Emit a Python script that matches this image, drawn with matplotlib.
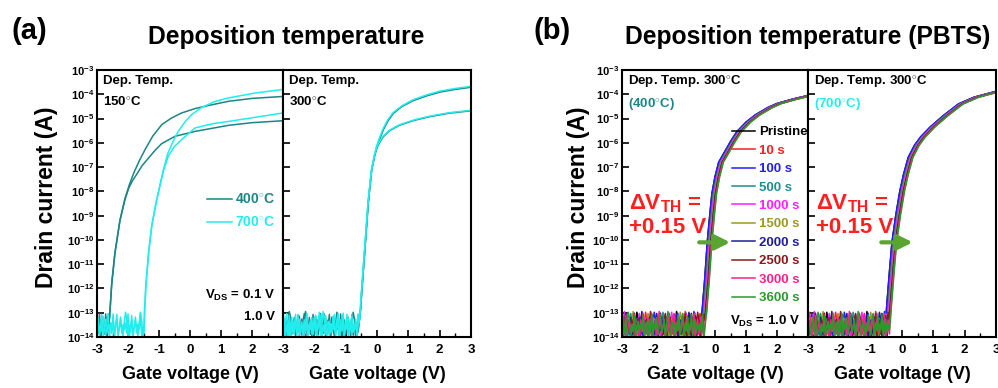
import numpy as np
import matplotlib.pyplot as plt
from matplotlib.ticker import MultipleLocator

plt.rcParams['font.family'] = ['Liberation Sans', 'DejaVu Sans']
plt.rcParams['font.weight'] = 'bold'
plt.rcParams['mathtext.fontset'] = 'custom'
plt.rcParams['mathtext.rm'] = 'Liberation Sans:bold'
plt.rcParams['mathtext.bf'] = 'Liberation Sans:bold'
plt.rcParams['mathtext.it'] = 'Liberation Sans:bold'

# gate sweep step in the off-state (noise floor) region
VG_STEP = 0.04

# off-state noise floor, log10(I)
NOISE = [-13.42, -13.85, -13.05, -14.10, -13.55, -13.30, -13.88, -13.62, -13.18, -13.74,
         -13.95, -13.40, -12.98, -13.27, -14.05, -13.50, -13.79, -13.12, -13.99, -13.58,
         -13.35, -13.82, -13.47, -13.70, -13.08, -13.93, -13.60, -13.38, -14.15, -13.29,
         -13.76, -13.02, -13.98, -13.44, -13.68, -13.20, -13.90, -13.57, -13.10, -13.81,
         -13.63, -13.26, -14.08, -13.49, -12.95, -13.17, -13.87, -13.54, -13.36, -13.96,
         -13.45, -13.78, -13.14, -13.65, -13.92, -13.31, -13.03, -14.12, -13.41, -13.73,
         -13.19, -13.89, -13.53, -13.07, -13.97, -13.61, -13.28, -13.83, -13.48, -13.71]

# (a) left: deposition 150 C, log10(I) vs Vg
a150_400_hi_v = [-2.62, -2.58, -2.53, -2.42, -2.26, -2.1, -1.95, -1.8, -1.62, -1.45, -1.2, -0.91,
                 -0.6, -0.27, 0.16, 0.6, 1.24, 2.0, 3.0]
a150_400_hi_i = [-13.7, -12.9, -11.9, -10.55, -9.2, -8.3, -7.7, -7.2, -6.7, -6.28, -5.72, -5.25,
                 -4.98, -4.77, -4.59, -4.46, -4.29, -4.17, -4.09]
a150_400_lo_v = [-2.62, -2.57, -2.52, -2.42, -2.26, -2.1, -1.97, -1.85, -1.72, -1.55, -1.34, -1.1,
                 -0.91, -0.48, 0.16, 1.24, 2.0, 3.0]
a150_400_lo_i = [-13.6, -12.7, -11.7, -10.5, -9.2, -8.35, -7.85, -7.55, -7.3, -6.95, -6.63, -6.27,
                 -6.03, -5.73, -5.53, -5.28, -5.17, -5.09]
a150_700_hi_v = [-1.49, -1.47, -1.43, -1.34, -1.24, -1.1, -0.97, -0.86, -0.72, -0.55, -0.38, -0.15,
                 0.05, 0.38, 0.8, 1.24, 2.1, 3.0]
a150_700_hi_i = [-13.8, -13.0, -11.93, -10.55, -9.45, -8.5, -7.75, -7.12, -6.45, -5.95, -5.53, -5.12,
                 -4.84, -4.54, -4.3, -4.15, -3.95, -3.80]
a150_700_lo_v = [-1.49, -1.46, -1.42, -1.33, -1.23, -1.09, -0.96, -0.85, -0.7, -0.5, -0.27, 0.16,
                 0.7, 1.24, 2.1, 3.0]
a150_700_lo_i = [-13.8, -12.9, -11.9, -10.5, -9.4, -8.45, -7.7, -7.12, -6.55, -6.15, -5.87, -5.39,
                 -5.22, -5.12, -4.95, -4.77]

# (a) right: deposition 300 C
a300_400_hi_v = [-0.56, -0.52, -0.49, -0.38, -0.28, -0.17, -0.08, 0.0, 0.1, 0.2, 0.35, 0.52, 0.8,
                 1.16, 1.6, 2.01, 2.5, 3.0]
a300_400_hi_i = [-13.3, -12.8, -12.2, -10.28, -8.49, -7.12, -6.55, -6.15, -5.8, -5.47, -5.1, -4.79,
                 -4.5, -4.26, -4.06, -3.91, -3.8, -3.71]
a300_400_lo_v = [-0.56, -0.52, -0.49, -0.38, -0.28, -0.17, -0.08, 0.0, 0.1, 0.2, 0.4, 0.73, 1.2,
                 1.69, 2.3, 3.0]
a300_400_lo_i = [-13.3, -12.8, -12.2, -10.28, -8.49, -7.12, -6.55, -6.2, -5.95, -5.75, -5.5, -5.27,
                 -5.07, -4.92, -4.78, -4.68]
a300_700_hi_v = [-0.57, -0.53, -0.5, -0.39, -0.29, -0.18, -0.09, -0.01, 0.09, 0.19, 0.34, 0.51, 0.8,
                 1.16, 1.6, 2.01, 2.5, 3.0]
a300_700_hi_i = [-13.4, -12.8, -12.2, -10.3, -8.5, -7.15, -6.55, -6.12, -5.76, -5.43, -5.06, -4.76,
                 -4.47, -4.22, -4.02, -3.87, -3.76, -3.67]
a300_700_lo_v = [-0.57, -0.53, -0.5, -0.39, -0.29, -0.18, -0.09, -0.01, 0.09, 0.19, 0.4, 0.73, 1.2,
                 1.69, 2.3, 3.0]
a300_700_lo_i = [-13.4, -12.8, -12.2, -10.3, -8.5, -7.15, -6.55, -6.18, -5.93, -5.73, -5.48, -5.25,
                 -5.05, -4.9, -4.76, -4.66]

# (b) PBTS, pristine curves, VDS = 1.0 V
b400_v = [-0.45, -0.42, -0.33, -0.25, -0.17, -0.1, 0.0, 0.12, 0.3, 0.5, 0.7, 1.0, 1.3, 1.7, 2.0,
          2.5, 3.0]
b400_i = [-13.3, -13.0, -11.6, -10.1, -9.0, -8.1, -7.4, -6.8, -6.4, -5.95, -5.55, -5.15, -4.85,
          -4.55, -4.38, -4.2, -4.05]
b700_v = [-0.52, -0.48, -0.40, -0.32, -0.2, -0.07, 0.05, 0.2, 0.4, 0.6, 0.9, 1.3, 1.8, 2.3, 3.0]
b700_i = [-13.3, -12.6, -11.3, -10.1, -9.0, -8.0, -7.3, -6.6, -6.1, -5.75, -5.35, -4.9, -4.4,
          -4.12, -3.88]

# stress times, colours and threshold shift (V) vs pristine
stress_labels = ['Pristine', '10 s', '100 s', '500 s', '1000 s', '1500 s', '2000 s',
                 '2500 s', '3000 s', '3600 s']
stress_colors = ['black', '#ff1f1f', '#1f1fff', '#1a9090', '#ff1fff', '#9a9a20', '#1f1f99',
                 '#8b1a1a', '#ff1f8c', '#2a9a2a']
stress_shift = [0.0, 0.02, 0.0, 0.05, 0.07, 0.09, 0.11, 0.12, 0.14, 0.15]

TEAL = '#1c8585'
CYAN = '#22ecec'
ARROW = '#5aa532'
RED = '#ff1f1f'


def trace(ax, v, logi, color, shift=0.0, roll=0, label=None):
    vn = np.arange(-3.0, v[0] + shift, VG_STEP)
    noise = np.roll(NOISE, roll)[:len(vn)]
    x = np.concatenate([vn, np.array(v) + shift])
    y = 10.0 ** np.concatenate([noise, logi])
    return ax.plot(x, y, color=color, lw=1.1, label=label)[0]


def style(ax, ylabels=True, last_x=False):
    ax.set_yscale('log')
    ax.set_ylim(1e-14, 1e-3)
    ax.set_xlim(-3, 3)
    ax.set_yticks([10.0 ** -k for k in range(3, 15)])
    ax.yaxis.set_minor_locator(plt.NullLocator())
    if ylabels:
        ax.set_yticklabels([r'$\mathbf{10^{-%d}}$' % k for k in range(3, 15)], fontsize=8)
    else:
        ax.set_yticklabels([])
    ax.set_xticks(range(-3, 4))
    xl = [str(k) for k in range(-3, 4)]
    if not last_x:
        xl[-1] = ''
    ax.set_xticklabels(xl, fontsize=9.5, fontweight='bold')
    ax.xaxis.set_minor_locator(MultipleLocator(0.5))
    ax.tick_params(which='both', direction='in', top=False, right=False)
    ax.tick_params(which='major', length=5, width=1.2)
    ax.tick_params(which='minor', length=3, width=1.0)
    ax.tick_params(axis='x', pad=5)
    ax.tick_params(axis='y', pad=2)
    for s in ax.spines.values():
        s.set_linewidth(1.5)
    ax.set_xlabel('Gate voltage (V)', fontsize=13, fontweight='bold', labelpad=7)


fig = plt.figure(figsize=(9.98, 3.88), dpi=100)
W, H = 998.0, 388.0


def axes_px(x0, x1, y0=70, y1=337):
    return fig.add_axes([x0 / W, 1 - y1 / H, (x1 - x0) / W, (y1 - y0) / H])


a1 = axes_px(97, 283)
a2 = axes_px(283, 471)
b1 = axes_px(622, 808)
b2 = axes_px(808, 996)

# (a) left
h400 = trace(a1, a150_400_hi_v, a150_400_hi_i, TEAL, roll=0, label='400$^{\\circ}$C')
trace(a1, a150_400_lo_v, a150_400_lo_i, TEAL, roll=5)
h700 = trace(a1, a150_700_hi_v, a150_700_hi_i, CYAN, roll=11, label='700$^{\\circ}$C')
trace(a1, a150_700_lo_v, a150_700_lo_i, CYAN, roll=23)
style(a1)
a1.legend(handles=[h400, h700], loc='upper left', bbox_to_anchor=(0.59, 0.54), frameon=False,
          handlelength=1.8, handletextpad=0.25, labelspacing=0.6,
          borderpad=0, borderaxespad=0, labelcolor='linecolor', prop={'weight': 'bold', 'size': 10})
a1.text(0.03, 0.958, 'Dep. Temp.', transform=a1.transAxes, fontsize=9.5, va='center')
a1.text(0.03, 0.88, '150$^{\\circ}$C', transform=a1.transAxes, fontsize=9.5, va='center')
a1.text(0.957, 0.154, 'V$_{\\mathbf{DS}}$ = 0.1 V', transform=a1.transAxes, fontsize=9.5,
        va='center', ha='right')
a1.text(0.957, 0.075, '1.0 V', transform=a1.transAxes, fontsize=9.5, va='center', ha='right')

# (a) right
trace(a2, a300_400_hi_v, a300_400_hi_i, TEAL, roll=31)
trace(a2, a300_400_lo_v, a300_400_lo_i, TEAL, roll=44)
trace(a2, a300_700_hi_v, a300_700_hi_i, CYAN, roll=17)
trace(a2, a300_700_lo_v, a300_700_lo_i, CYAN, roll=58)
style(a2, ylabels=False, last_x=True)
a2.text(0.03, 0.958, 'Dep. Temp.', transform=a2.transAxes, fontsize=9.5, va='center')
a2.text(0.03, 0.88, '300$^{\\circ}$C', transform=a2.transAxes, fontsize=9.5, va='center')

# (b) PBTS
handles = []
for i, (lab, col, dv) in enumerate(zip(stress_labels, stress_colors, stress_shift)):
    handles.append(trace(b1, b400_v, b400_i, col, shift=dv, roll=7 * i, label=lab))
    trace(b2, b700_v, b700_i, col, shift=dv, roll=7 * i + 3)
style(b1)
style(b2, ylabels=False, last_x=True)
b1.legend(handles=handles, loc='upper left', bbox_to_anchor=(0.59, 0.79), frameon=False,
          handlelength=1.8, handletextpad=0.25, labelspacing=0.47, borderpad=0,
          borderaxespad=0, labelcolor='linecolor', prop={'weight': 'bold', 'size': 9.5})

for ax, sub, col in [(b1, '(400$^{\\circ}$C)', TEAL), (b2, '(700$^{\\circ}$C)', CYAN)]:
    ax.text(0.03, 0.958, 'Dep. Temp. 300$^{\\circ}$C', transform=ax.transAxes, fontsize=9.5,
            va='center')
    ax.text(0.03, 0.87, sub, transform=ax.transAxes, fontsize=9.5, va='center', color=col)
    ax.text(0.04, 0.50, '$\\Delta$V$_{\\mathbf{TH}}$ =', transform=ax.transAxes, fontsize=16,
            va='center', color=RED)
    ax.text(0.04, 0.41, '+0.15 V', transform=ax.transAxes, fontsize=16, va='center', color=RED)
b1.annotate('', xy=(0.58, 10 ** -10.1), xytext=(-0.6, 10 ** -10.1),
            arrowprops=dict(arrowstyle='-|>,head_width=0.45,head_length=0.9', lw=3, color=ARROW))
b2.annotate('', xy=(0.43, 10 ** -10.1), xytext=(-0.75, 10 ** -10.1),
            arrowprops=dict(arrowstyle='-|>,head_width=0.45,head_length=0.9', lw=3, color=ARROW))
b1.text(0.957, 0.057, 'V$_{\\mathbf{DS}}$ = 1.0 V', transform=b1.transAxes, fontsize=9.5,
        va='center', ha='right')

# figure labels
fig.text(47 / W, 1 - 197 / H, 'Drain current (A)', rotation=90, fontsize=16.5, ha='center',
         va='center')
fig.text(578 / W, 1 - 197 / H, 'Drain current (A)', rotation=90, fontsize=16.5, ha='center',
         va='center')
fig.text(286 / W, 1 - 37 / H, 'Deposition temperature', fontsize=17.7, ha='center', va='center')
fig.text(808 / W, 1 - 37 / H, 'Deposition temperature (PBTS)', fontsize=17.7, ha='center',
         va='center')
fig.text(29 / W, 1 - 31 / H, '(a)', fontsize=21, ha='center', va='center')
fig.text(552 / W, 1 - 31 / H, '(b)', fontsize=21, ha='center', va='center')

fig.savefig('out.png', dpi=100)
